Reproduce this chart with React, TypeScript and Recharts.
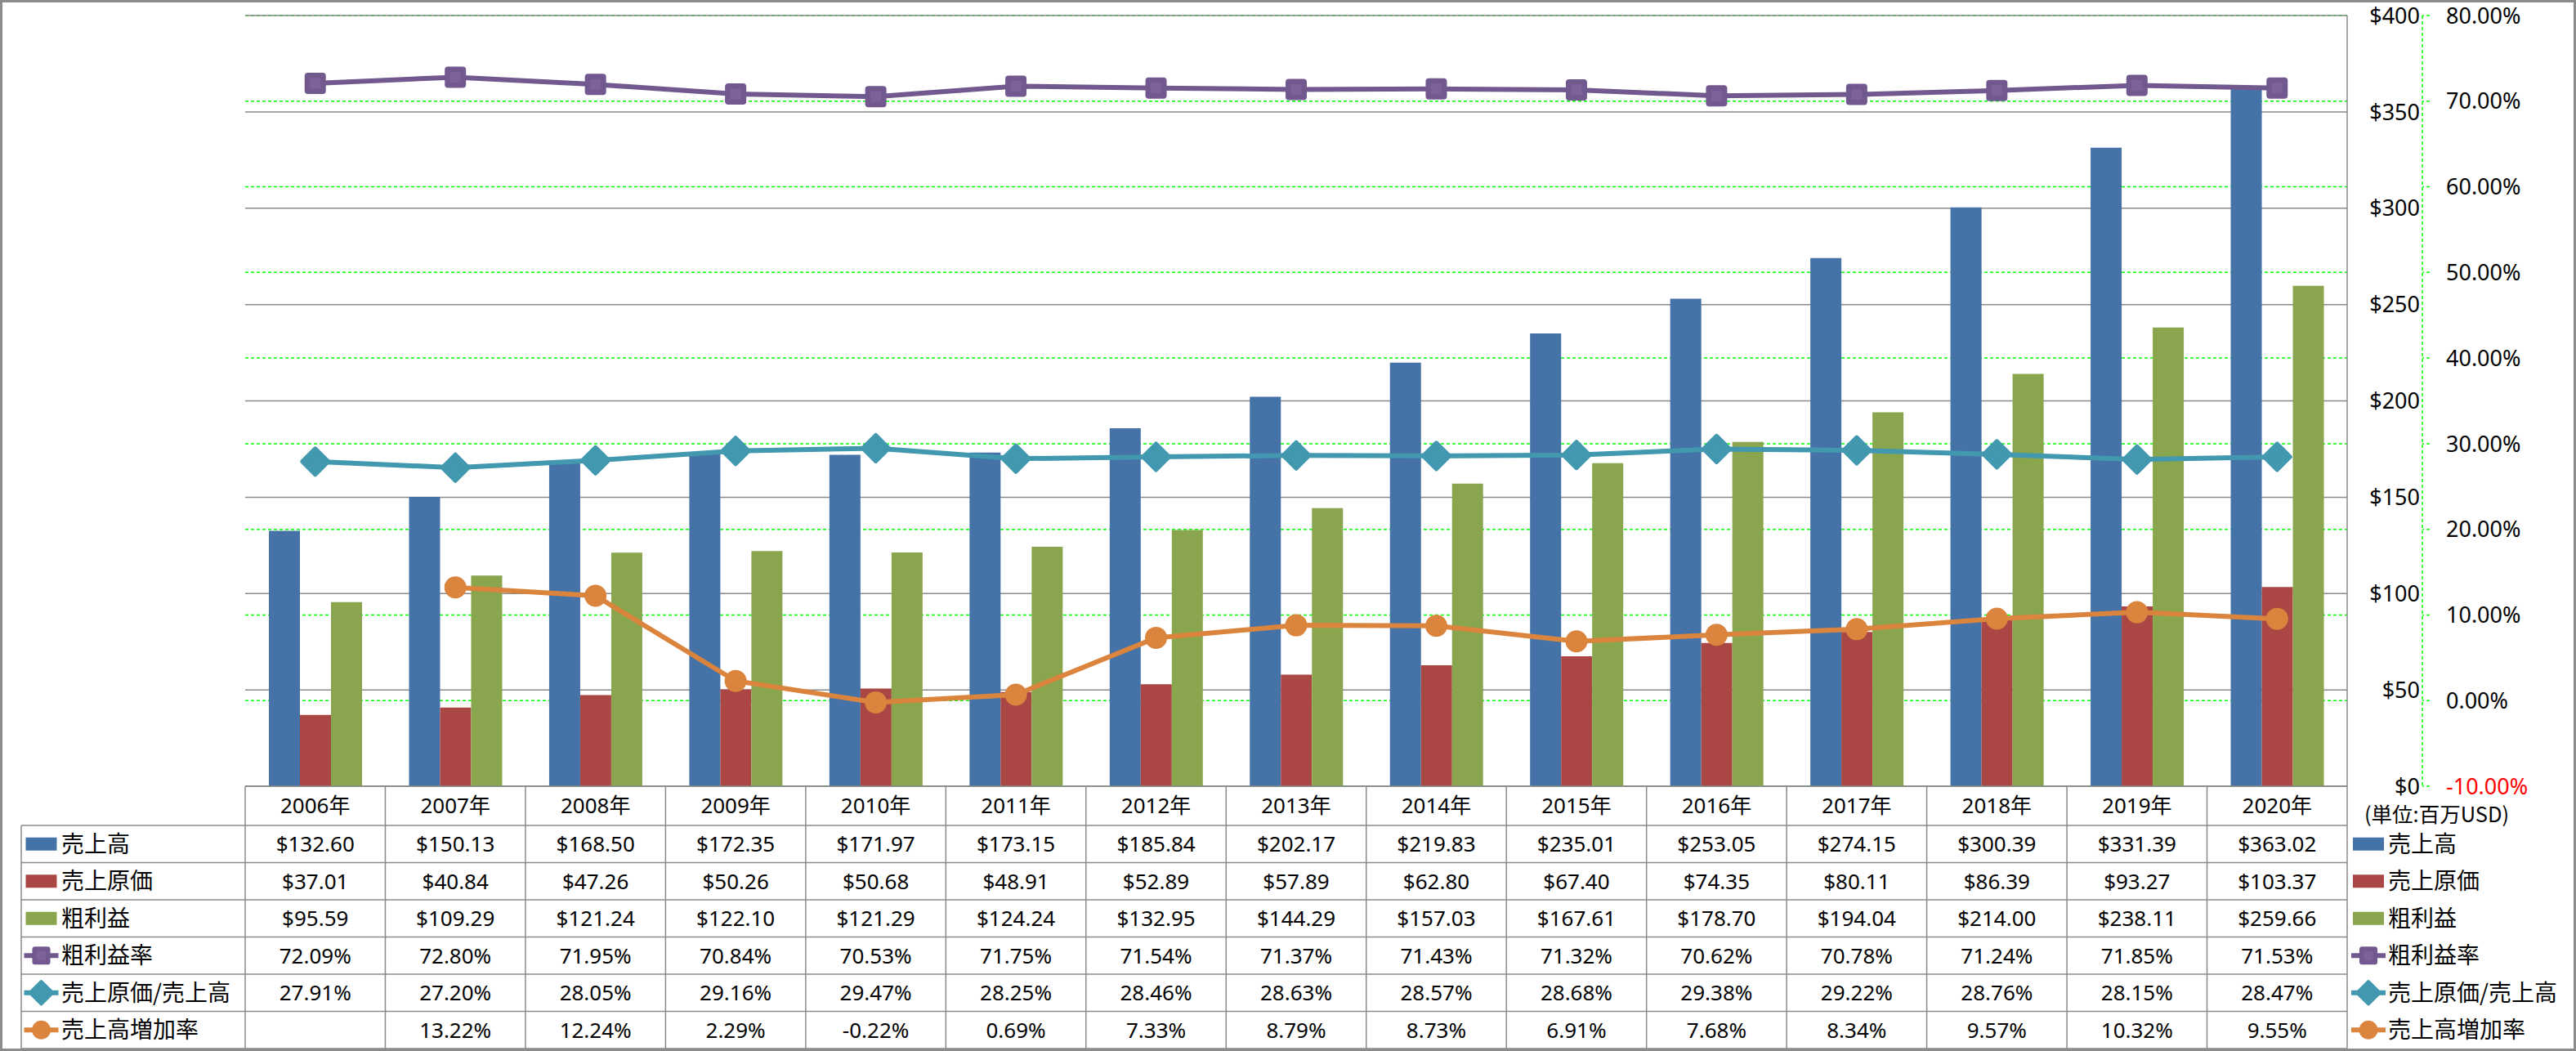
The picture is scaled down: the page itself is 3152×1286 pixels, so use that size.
import React from 'react';
import { ComposedChart, Bar, Line, XAxis, YAxis, CartesianGrid } from 'recharts';

const years = ['2006年', '2007年', '2008年', '2009年', '2010年', '2011年', '2012年', '2013年', '2014年', '2015年', '2016年', '2017年', '2018年', '2019年', '2020年'];
const sales = [132.60, 150.13, 168.50, 172.35, 171.97, 173.15, 185.84, 202.17, 219.83, 235.01, 253.05, 274.15, 300.39, 331.39, 363.02];
const cogs = [37.01, 40.84, 47.26, 50.26, 50.68, 48.91, 52.89, 57.89, 62.80, 67.40, 74.35, 80.11, 86.39, 93.27, 103.37];
const grossProfit = [95.59, 109.29, 121.24, 122.10, 121.29, 124.24, 132.95, 144.29, 157.03, 167.61, 178.70, 194.04, 214.00, 238.11, 259.66];
const grossMargin = [72.09, 72.80, 71.95, 70.84, 70.53, 71.75, 71.54, 71.37, 71.43, 71.32, 70.62, 70.78, 71.24, 71.85, 71.53];
const cogsRatio = [27.91, 27.20, 28.05, 29.16, 29.47, 28.25, 28.46, 28.63, 28.57, 28.68, 29.38, 29.22, 28.76, 28.15, 28.47];
const salesGrowth: (number | null)[] = [null, 13.22, 12.24, 2.29, -0.22, 0.69, 7.33, 8.79, 8.73, 6.91, 7.68, 8.34, 9.57, 10.32, 9.55];

const usdTicks = [0, 50, 100, 150, 200, 250, 300, 350, 400];
const pctTicks = [-10, 0, 10, 20, 30, 40, 50, 60, 70, 80];

const seriesNames = ['売上高', '売上原価', '粗利益', '粗利益率', '売上原価/売上高', '売上高増加率'];
const unitLabel = '(単位:百万USD)';

const data = years.map((year, i) => ({
  year,
  sales: sales[i],
  cogs: cogs[i],
  gross: grossProfit[i],
  gm: grossMargin[i],
  ratio: cogsRatio[i],
  growth: salesGrowth[i],
}));

const W = 3152;
const H = 1286;
const PLOT_L = 300;
const PLOT_R = 2872;
const PLOT_T = 19;
const PLOT_B = 962;
const COL_W = (PLOT_R - PLOT_L) / years.length;
const HEADER_H = 48;
const ROW_H = 45.5;
const TABLE_L = 26;
const USD_W = 92;
const PCT_W = 188;
const FONT = "'Noto Sans', 'Noto Sans CJK JP', sans-serif";
const CJK = "'Noto Sans CJK JP', 'Noto Sans', sans-serif";
const GRID = '#8a8a8a';
const GREEN = '#00ff00';

const COLORS = {
  sales: '#4572A7',
  cogs: '#AA4643',
  gross: '#89A54E',
  gm: '#71588F',
  ratio: '#4198AF',
  growth: '#DB843D',
};

type Kind = 'bar' | 'square' | 'diamond' | 'circle';

const usdFmt = (v: number | null) => (v == null ? '' : '$' + v.toFixed(2));
const pctFmt = (v: number | null) => (v == null ? '' : v.toFixed(2) + '%');

const rows: { name: string; values: (number | null)[]; color: string; kind: Kind; fmt: (v: number | null) => string }[] = [
  { name: seriesNames[0], values: sales, color: COLORS.sales, kind: 'bar', fmt: usdFmt },
  { name: seriesNames[1], values: cogs, color: COLORS.cogs, kind: 'bar', fmt: usdFmt },
  { name: seriesNames[2], values: grossProfit, color: COLORS.gross, kind: 'bar', fmt: usdFmt },
  { name: seriesNames[3], values: grossMargin, color: COLORS.gm, kind: 'square', fmt: pctFmt },
  { name: seriesNames[4], values: cogsRatio, color: COLORS.ratio, kind: 'diamond', fmt: pctFmt },
  { name: seriesNames[5], values: salesGrowth, color: COLORS.growth, kind: 'circle', fmt: pctFmt },
];

function lighten(hex: string, amt: number) {
  const n = parseInt(hex.slice(1), 16);
  const r = Math.min(255, ((n >> 16) & 255) + amt);
  const g = Math.min(255, ((n >> 8) & 255) + amt);
  const b = Math.min(255, (n & 255) + amt);
  return `rgb(${r},${g},${b})`;
}

function marker(kind: Kind, cx: number, cy: number, color: string, scale = 1, key?: any) {
  if (kind === 'square') {
    const s = 26 * scale;
    return (
      <g key={key}>
        <rect x={cx - s / 2} y={cy - s / 2} width={s} height={s} rx={4 * scale} fill={color} />
        <rect x={cx - s / 4} y={cy - s / 4} width={s / 2} height={s / 2} fill={lighten(color, 10)} />
      </g>
    );
  }
  if (kind === 'diamond') {
    const h = 16 * scale;
    return (
      <polygon
        key={key}
        points={`${cx},${cy - h} ${cx + h},${cy} ${cx},${cy + h} ${cx - h},${cy}`}
        fill={color}
        stroke={color}
        strokeWidth={5 * scale}
        strokeLinejoin="round"
      />
    );
  }
  if (kind === 'circle') {
    return <circle key={key} cx={cx} cy={cy} r={13.5 * scale} fill={color} />;
  }
  return null;
}

function legendKey(kind: Kind, cx: number, cy: number, color: string) {
  if (kind === 'bar') {
    return <rect x={cx - 19} y={cy - 8} width={38} height={16} fill={color} />;
  }
  return (
    <g>
      <line x1={cx - 21} y1={cy} x2={cx + 21} y2={cy} stroke={color} strokeWidth={6} />
      {marker(kind, cx, cy, color, 0.85)}
    </g>
  );
}

const dotRenderer = (kind: Kind, color: string) => (p: any) => {
  if (p == null || p.cx == null || p.cy == null || p.value == null) return <g key={`d-${p?.index}`} />;
  return marker(kind, p.cx, p.cy, color, 1, `d-${p.index}`);
};

const rowCenter = (i: number) => PLOT_B + HEADER_H + ROW_H * (i + 0.5);

const TableTick = (props: any) => {
  const { x, payload, index } = props;
  const top = PLOT_B;
  const bottom = PLOT_B + HEADER_H + ROW_H * rows.length;
  const right = x + COL_W / 2;
  const els: any[] = [];
  els.push(
    <text key="h" x={x} y={top + HEADER_H / 2} dy="0.36em" textAnchor="middle" fontSize={26} fontFamily={FONT} fill="#000">
      {payload.value}
    </text>
  );
  rows.forEach((r, i) => {
    els.push(
      <text key={`v${i}`} x={x} y={rowCenter(i)} dy="0.36em" textAnchor="middle" fontSize={26} fontFamily={FONT} fill="#000">
        {r.fmt(r.values[index])}
      </text>
    );
  });
  els.push(<line key="vr" x1={right} y1={top} x2={right} y2={bottom} stroke={GRID} strokeWidth={1.5} />);

  if (index === 0) {
    els.push(<line key="vl" x1={PLOT_L} y1={top} x2={PLOT_L} y2={bottom} stroke={GRID} strokeWidth={1.5} />);
    els.push(<line key="vll" x1={TABLE_L} y1={top + HEADER_H} x2={TABLE_L} y2={bottom} stroke={GRID} strokeWidth={1.5} />);
    for (let k = 0; k <= rows.length; k++) {
      const yy = top + HEADER_H + ROW_H * k;
      els.push(<line key={`hl${k}`} x1={TABLE_L} y1={yy} x2={PLOT_R} y2={yy} stroke={GRID} strokeWidth={1.5} />);
    }
    rows.forEach((r, i) => {
      const cy = rowCenter(i);
      els.push(<g key={`lk${i}`}>{legendKey(r.kind, 50.5, cy, r.color)}</g>);
      els.push(
        <text key={`lt${i}`} x={75} y={cy} dy="0.36em" fontSize={28} fontFamily={CJK} fill="#000">
          {r.name}
        </text>
      );
      els.push(<g key={`rk${i}`}>{legendKey(r.kind, 2898, cy, r.color)}</g>);
      els.push(
        <text key={`rt${i}`} x={2922} y={cy} dy="0.36em" fontSize={28} fontFamily={CJK} fill="#000">
          {r.name}
        </text>
      );
    });
    els.push(
      <text key="unit" x={2893} y={top + 35} dy="0.36em" fontSize={25.5} fontFamily={CJK} fill="#000">
        {unitLabel}
      </text>
    );
  }
  return <g>{els}</g>;
};

const UsdTick = (props: any) => {
  const { y, payload } = props;
  return (
    <text x={PLOT_R + 89} y={y} dy="0.36em" textAnchor="end" fontSize={27} fontFamily={FONT} fill="#000">
      {'$' + payload.value}
    </text>
  );
};

const PctTick = (props: any) => {
  const { y, payload } = props;
  const v = payload.value as number;
  return (
    <text x={PLOT_R + USD_W + 29} y={y} dy="0.36em" textAnchor="start" fontSize={27} fontFamily={FONT} fill={v < 0 ? '#ff0000' : '#000'}>
      {v.toFixed(2) + '%'}
    </text>
  );
};

export default function App() {
  return (
    <div style={{ position: 'fixed', left: 0, top: 0, width: W, height: H, background: '#fff' }}>
      <style>{'body{margin:0;}'}</style>
      <ComposedChart
        width={W}
        height={H}
        data={data}
        margin={{ top: PLOT_T, right: 0, bottom: 3, left: PLOT_L }}
        barGap={0}
        barSize={38}
      >
        <CartesianGrid yAxisId="b_pct" vertical={false} stroke={GREEN} strokeDasharray="4 3" strokeWidth={1.5} />
        <CartesianGrid yAxisId="a_usd" vertical={false} stroke={GRID} strokeWidth={1.5} />
        <XAxis
          dataKey="year"
          height={H - PLOT_B - 3}
          interval={0}
          tickLine={false}
          tickSize={0}
          tickMargin={0}
          axisLine={{ stroke: GRID, strokeWidth: 1.5 }}
          tick={<TableTick />}
        />
        <YAxis
          yAxisId="b_pct"
          orientation="right"
          width={PCT_W}
          domain={[-10, 80]}
          ticks={pctTicks}
          interval={0}
          tickSize={9}
          tickMargin={20}
          axisLine={{ stroke: GREEN, strokeDasharray: '4 3', strokeWidth: 1.5 }}
          tickLine={{ stroke: GREEN, strokeDasharray: '4 3', strokeWidth: 1.5 }}
          tick={<PctTick />}
        />
        <YAxis
          yAxisId="a_usd"
          orientation="right"
          width={USD_W}
          domain={[0, 400]}
          ticks={usdTicks}
          interval={0}
          tickLine={false}
          tickSize={0}
          tickMargin={0}
          axisLine={{ stroke: GRID, strokeWidth: 1.5 }}
          tick={<UsdTick />}
        />
        <Bar yAxisId="a_usd" dataKey="sales" name={seriesNames[0]} fill={COLORS.sales} isAnimationActive={false} />
        <Bar yAxisId="a_usd" dataKey="cogs" name={seriesNames[1]} fill={COLORS.cogs} isAnimationActive={false} />
        <Bar yAxisId="a_usd" dataKey="gross" name={seriesNames[2]} fill={COLORS.gross} isAnimationActive={false} />
        <Line
          yAxisId="b_pct"
          type="linear"
          dataKey="gm"
          name={seriesNames[3]}
          stroke={COLORS.gm}
          strokeWidth={6}
          dot={dotRenderer('square', COLORS.gm)}
          activeDot={false}
          isAnimationActive={false}
        />
        <Line
          yAxisId="b_pct"
          type="linear"
          dataKey="ratio"
          name={seriesNames[4]}
          stroke={COLORS.ratio}
          strokeWidth={6}
          dot={dotRenderer('diamond', COLORS.ratio)}
          activeDot={false}
          isAnimationActive={false}
        />
        <Line
          yAxisId="b_pct"
          type="linear"
          dataKey="growth"
          name={seriesNames[5]}
          stroke={COLORS.growth}
          strokeWidth={6}
          dot={dotRenderer('circle', COLORS.growth)}
          activeDot={false}
          isAnimationActive={false}
        />
      </ComposedChart>
      <div
        style={{
          position: 'absolute',
          left: 0,
          top: 0,
          width: W,
          height: H,
          boxSizing: 'border-box',
          border: '3px solid #8c8c8c',
          pointerEvents: 'none',
        }}
      />
    </div>
  );
}
